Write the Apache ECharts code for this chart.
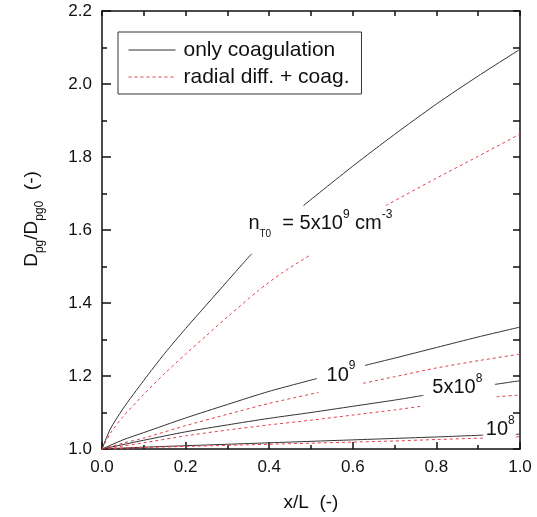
<!DOCTYPE html>
<html>
<head>
<meta charset="utf-8">
<script src="https://cdn.jsdelivr.net/npm/echarts@6/dist/echarts.min.js"></script>
<style>
  html, body { margin: 0; padding: 0; background: #fff; }
  #chart { width: 537px; height: 517px; }
</style>
</head>
<body>
<div id="chart"></div>
<script>
// axis ticks
var xTicks = [0.0, 0.2, 0.4, 0.6, 0.8, 1.0];
var yTicks = [1.0, 1.2, 1.4, 1.6, 1.8, 2.0, 2.2];

var seriesNames = ['only coagulation', 'radial diff. + coag.'];

// [x/L, Dpg/Dpg0]  (null = gap left for the label)
var coag5e9 = [[0,1],[0.02,1.055],[0.05,1.11],[0.1,1.188],[0.15,1.262],[0.2,1.33],[0.25,1.395],[0.3,1.46],[0.358,1.535],[0.42,null],[0.482,1.667],[0.6,1.775],[0.7,1.862],[0.8,1.945],[0.9,2.022],[1.0,2.095]];
var diff5e9 = [[0,1],[0.02,1.043],[0.05,1.088],[0.1,1.15],[0.15,1.207],[0.2,1.26],[0.25,1.311],[0.3,1.362],[0.374,1.434],[0.43,1.482],[0.498,1.531],[0.59,null],[0.679,1.667],[0.8,1.742],[0.9,1.802],[1.0,1.863]];

var coag1e9 = [[0,1],[0.05,1.025],[0.1,1.045],[0.2,1.085],[0.3,1.122],[0.4,1.158],[0.514,1.193],[0.57,null],[0.629,1.229],[0.7,1.249],[0.8,1.278],[0.9,1.307],[1.0,1.334]];
var diff1e9 = [[0,1],[0.05,1.016],[0.1,1.03],[0.2,1.064],[0.3,1.095],[0.4,1.125],[0.518,1.155],[0.57,null],[0.625,1.18],[0.7,1.198],[0.8,1.222],[0.9,1.242],[1.0,1.26]];

var coag5e8 = [[0,1],[0.05,1.012],[0.1,1.024],[0.2,1.047],[0.3,1.066],[0.4,1.084],[0.5,1.1],[0.6,1.117],[0.7,1.134],[0.769,1.147],[0.85,null],[0.94,1.177],[1.0,1.187]];
var diff5e8 = [[0,1],[0.05,1.008],[0.1,1.017],[0.2,1.036],[0.3,1.052],[0.4,1.066],[0.5,1.079],[0.6,1.093],[0.7,1.107],[0.769,1.118],[0.85,null],[0.944,1.143],[1.0,1.148]];

var coag1e8 = [[0,1],[0.1,1.005],[0.2,1.009],[0.3,1.013],[0.4,1.017],[0.5,1.021],[0.6,1.025],[0.7,1.029],[0.8,1.033],[0.912,1.038],[0.95,null],[0.99,1.04],[1.0,1.041]];
var diff1e8 = [[0,1],[0.1,1.004],[0.2,1.007],[0.3,1.01],[0.4,1.013],[0.5,1.016],[0.6,1.019],[0.7,1.022],[0.8,1.026],[0.912,1.03],[0.95,null],[0.99,1.033],[1.0,1.034]];

// curve labels: text + anchor (x/L, Dpg/Dpg0)
var curveLabels = [
  { text: '{m|n}{sb|T0}{m|  = 5x10}{sp|9}{m| cm}{sp|-3}', at: [0.349, 1.602] },
  { text: '{m|10}{sp|9}', at: [0.536, 1.186] },
  { text: '{m|5x10}{sp|8}', at: [0.789, 1.151] },
  { text: '{m|10}{sp|8}', at: [0.917, 1.036] }
];

var FONT = "'Liberation Sans', Arial, sans-serif";
var black = '#333333';
var red = '#e2404c';

var labelRich = {
  m:  { fontSize: 20, lineHeight: 20, verticalAlign: 'bottom', padding: [0, 0, 6, 0], color: '#111', fontFamily: FONT },
  sp: { fontSize: 12, lineHeight: 12, verticalAlign: 'bottom', padding: [0, 0, 19, 0], color: '#111', fontFamily: FONT },
  sb: { fontSize: 10, lineHeight: 10, verticalAlign: 'bottom', color: '#111', fontFamily: FONT }
};

function makeLine(name, data, dashed) {
  return {
    name: name,
    type: 'line',
    data: data,
    symbol: 'none',
    smooth: 0.25,
    connectNulls: false,
    silent: true,
    lineStyle: { color: dashed ? red : black, width: 1, type: dashed ? [3, 3] : 'solid' },
    itemStyle: { color: dashed ? red : black }
  };
}

var series = [
  makeLine(seriesNames[0], coag5e9, false),
  makeLine(seriesNames[1], diff5e9, true),
  makeLine(seriesNames[0], coag1e9, false),
  makeLine(seriesNames[1], diff1e9, true),
  makeLine(seriesNames[0], coag5e8, false),
  makeLine(seriesNames[1], diff5e8, true),
  makeLine(seriesNames[0], coag1e8, false),
  makeLine(seriesNames[1], diff1e8, true)
];

// labels on the curves go through markPoint so they sit in data space
series[0].markPoint = {
  silent: true,
  symbol: 'circle',
  symbolSize: 1,
  itemStyle: { color: 'rgba(0,0,0,0)' },
  label: { show: true, position: 'right', distance: 0, rich: labelRich },
  data: curveLabels.map(function(l) {
    return { coord: l.at, label: { formatter: l.text } };
  })
};

var axisLine = { show: true, onZero: false, lineStyle: { color: '#111', width: 1.5 } };

var option = {
  animation: false,
  textStyle: { fontFamily: FONT },
  grid: { left: 102, right: 17, top: 11, bottom: 66, containLabel: false },
  legend: {
    data: seriesNames,
    orient: 'vertical',
    left: 118,
    top: 32,
    itemWidth: 47,
    itemHeight: 14,
    itemGap: 5,
    padding: [7, 12, 6, 10],
    borderColor: '#333',
    borderWidth: 1,
    backgroundColor: '#fff',
    itemStyle: { opacity: 0 },
    lineStyle: { width: 1 },
    textStyle: { fontSize: 21, lineHeight: 22, color: '#111', padding: [0, 0, 0, 3], fontFamily: FONT }
  },
  xAxis: [
    {
      type: 'value', position: 'bottom',
      min: xTicks[0], max: xTicks[xTicks.length - 1], interval: 0.2,
      axisLine: axisLine,
      axisTick: { inside: true, length: 7, lineStyle: { color: '#111', width: 1.5 } },
      minorTick: { show: true, splitNumber: 2, length: 4, lineStyle: { color: '#111', width: 1.5 } },
      splitLine: { show: false },
      axisLabel: { fontSize: 17, color: '#111', margin: 10, formatter: function(v) { return v.toFixed(1); } },
      name: 'x/L  (-)', nameLocation: 'middle', nameGap: 44,
      nameTextStyle: { fontSize: 19, color: '#111' }
    },
    {
      type: 'value', position: 'top',
      min: 0, max: 1, interval: 0.1,
      axisLine: axisLine,
      axisTick: { inside: true, length: 5, lineStyle: { color: '#111', width: 1.5 } },
      axisLabel: { show: false },
      splitLine: { show: false }
    }
  ],
  yAxis: [
    {
      type: 'value', position: 'left',
      min: yTicks[0], max: yTicks[yTicks.length - 1], interval: 0.2,
      axisLine: axisLine,
      axisTick: { inside: true, length: 9, lineStyle: { color: '#111', width: 1.5 } },
      minorTick: { show: true, splitNumber: 2, length: 5, lineStyle: { color: '#111', width: 1.5 } },
      splitLine: { show: false },
      axisLabel: { fontSize: 17, color: '#111', margin: 10, formatter: function(v) { return v.toFixed(1); } },
      name: '{m|D}{s|pg}{m|/D}{s|pg0}{m|  (-)}',
      nameLocation: 'middle', nameRotate: 90, nameGap: 56,
      nameTextStyle: {
        fontSize: 19, color: '#111', padding: [0, 0, 0, 22],
        rich: {
          m: { fontSize: 19, lineHeight: 19, verticalAlign: 'bottom', padding: [0, 0, 5, 0], color: '#111', fontFamily: FONT },
          s: { fontSize: 12, lineHeight: 12, verticalAlign: 'bottom', color: '#111', fontFamily: FONT }
        }
      }
    },
    {
      type: 'value', position: 'right',
      min: 1.0, max: 2.2, interval: 0.1,
      axisLine: axisLine,
      axisTick: { inside: true, length: 7, lineStyle: { color: '#111', width: 1.5 } },
      axisLabel: { show: false },
      splitLine: { show: false }
    }
  ],
  series: series
};

var chart = echarts.init(document.getElementById('chart'), null, { renderer: 'canvas' });
chart.setOption(option);
</script>
</body>
</html>
